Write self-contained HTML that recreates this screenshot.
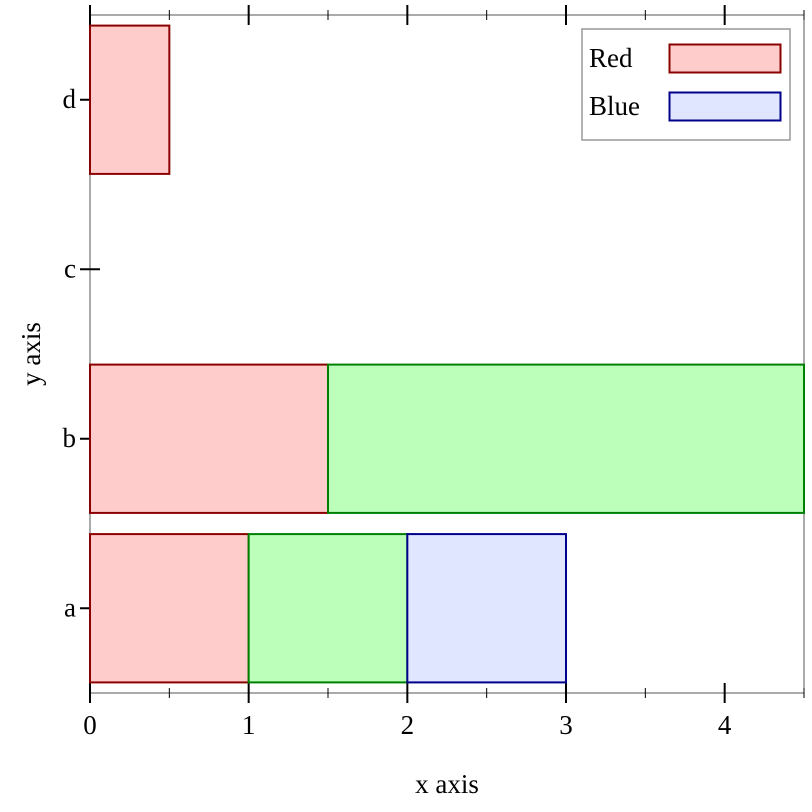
<!DOCTYPE html>
<html><head><meta charset="utf-8"><style>body{margin:0;background:#fff}svg{display:block;font-family:"Liberation Serif",serif}</style></head>
<body>
<svg id="c" width="812" height="812"></svg>
<script>
const categories=["a","b","c","d"];
const redVals=[1,1.5,0,0.5];
const greenVals=[1,3,0,0];
const blueVals=[1,0,0,0];
const xTicks=[0,1,2,3,4];
const xMinor=[0.5,1.5,2.5,3.5,4.5];
const NS="http://www.w3.org/2000/svg";
const svg=document.getElementById('c');
const X0=90,X1=804,Y0=15,Y1=693,XMAX=4.5;
const FS=27;
const xs=v=>X0+v/XMAX*(X1-X0);
const step=(Y1-Y0)/categories.length;
const yc=i=>Y1-step*(i+0.5);
function mk(t,a,p){const e=document.createElementNS(NS,t);for(const k in a)e.setAttribute(k,a[k]);(p||svg).appendChild(e);return e;}
let e;
e=mk('rect',{x:X0,y:Y0,width:X1-X0,height:Y1-Y0,fill:'none',stroke:'#555','stroke-width':1});


xTicks.forEach(v=>{
 [Y0,Y1].forEach(y=>{e=mk('line',{x1:xs(v),x2:xs(v),y1:y-10,y2:y+10,stroke:'#000','stroke-width':2});
 
 });
 e=mk('text',{x:xs(v),y:734,'font-size':FS,'text-anchor':'middle'});e.textContent=v;
 
 
});
xMinor.forEach(v=>{[Y0,Y1].forEach(y=>{e=mk('line',{x1:xs(v),x2:xs(v),y1:y-5,y2:y+5,stroke:'#000','stroke-width':1});
 
 });});
categories.forEach((c,i)=>{
 e=mk('line',{x1:X0-10,x2:X0+10,y1:yc(i),y2:yc(i),stroke:'#000','stroke-width':2});
 
 
 e=mk('text',{x:76,y:yc(i)+8,'font-size':FS,'text-anchor':'end'});e.textContent=c;
 
 
});
const bh=step*0.875;
const series=[[redVals,'#ffcccc','#8b0000','red'],[greenVals,'#bbffbb','#008000','green'],[blueVals,'#e0e6ff','#00008b','blue']];
categories.forEach((c,i)=>{
 let acc=0;
 series.forEach(([vals,f,s,n])=>{
  const v=vals[i];
  if(v>0){e=mk('rect',{x:xs(acc),y:yc(i)-bh/2,width:xs(acc+v)-xs(acc),height:bh,fill:f,stroke:s,'stroke-width':2});
  
  }
  acc+=v;
 });
});
e=mk('text',{x:447,y:793,'font-size':FS,'text-anchor':'middle'});e.textContent='x axis';


e=mk('text',{x:0,y:0,'font-size':FS,'text-anchor':'middle',transform:'translate(40,354) rotate(-90)'});e.textContent='y axis';


const g=mk('g',{});


mk('rect',{x:582,y:29,width:208,height:111,fill:'#fff',stroke:'#999','stroke-width':1.5},g);
[['Red','#ffcccc','#8b0000',44],['Blue','#e0e6ff','#00008b',92]].forEach(([t,f,s,y])=>{
 e=mk('rect',{x:669.5,y:y+0.5,width:111,height:28,fill:f,stroke:s,'stroke-width':2},g);
 
 
 e=mk('text',{x:589,y:y+23,'font-size':FS},g);e.textContent=t;
 
 
});
</script>
</body></html>
